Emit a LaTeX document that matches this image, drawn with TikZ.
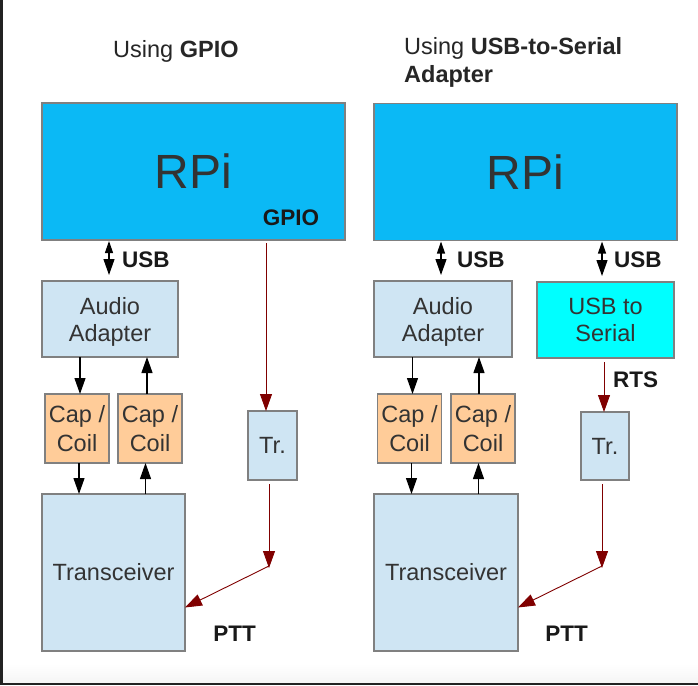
\documentclass[tikz,border=0pt]{standalone}
\usepackage{fontspec}
\setmainfont{Liberation Sans}
\usetikzlibrary{arrows.meta,calc}
\definecolor{rpiblue}{RGB}{11,185,245}
\definecolor{lightbox}{RGB}{207,229,243}
\definecolor{capor}{RGB}{255,204,153}
\definecolor{cyanbox}{RGB}{0,255,255}
\definecolor{boxline}{RGB}{128,128,128}
\definecolor{txtgrey}{RGB}{51,51,51}
\definecolor{pttred}{RGB}{128,0,0}
\definecolor{frame}{RGB}{34,34,34}
\begin{document}
\begin{tikzpicture}[x=1pt,y=-1pt,
  box/.style={draw=boxline, line width=1.2pt, inner sep=0pt, outer sep=0pt,
    align=center, text=txtgrey, font=\fontsize{23.5}{27}\selectfont},
  lightb/.style={box, fill=lightbox},
  capb/.style={box, fill=capor, minimum width=64pt, minimum height=69pt,
    font=\fontsize{23.5}{28.5}\selectfont},
  rpib/.style={box, fill=rpiblue, minimum width=303pt, minimum height=137pt,
    font=\fontsize{48}{50}\selectfont},
  lbl/.style={inner sep=0pt, text=black!90, font=\fontsize{22.5}{26}\selectfont\bfseries},
  ttl/.style={inner sep=0pt, text=black!85, align=left, font=\fontsize{23.5}{28}\selectfont},
  blk/.style={line width=1.2pt, -{Triangle[width=11pt,length=16pt]}},
  usb/.style={line width=1.2pt, {Triangle[width=8pt,length=12pt]}-{Triangle[width=11pt,length=16pt]},
    shorten <=1pt, shorten >=6pt},
  redar/.style={draw=pttred, line width=0.9pt, -{Triangle[width=12pt,length=17pt]}, pttred}
]
\useasboundingbox (0,0) rectangle (698,685);
\fill[white] (0,0) rectangle (698,685);
\shade[top color=white, bottom color=black!4] (3,664) rectangle (698,683);
\fill[frame] (0,0) rectangle (3,685);
\fill[frame] (0,683) rectangle (698,685);

% titles
\node[ttl, anchor=base west] (titleL) at (113,57) {Using \textbf{GPIO}};
\node[ttl, anchor=north west] (titleR) at (404,37) {Using \textbf{USB-to-Serial}\\\textbf{Adapter}};

% ---------- left ----------
\node[rpib] (rpiL) at (193.5,171.5) {RPi};
\node[lbl] (gpio) at (291,218) {GPIO};
\node[lightb, text depth=0pt, minimum width=136pt, minimum height=76pt] (audioL) at (110,319) {Audio\\Adapter};
\node[capb] (capL1) at (77,428.5) {Cap /\\Coil};
\node[capb] (capL2) at (150,428.5) {Cap /\\Coil};
\node[lightb, minimum width=49pt, minimum height=69pt] (trL) at (272.5,445.5) {Tr.};
\node[lightb, minimum width=143pt, minimum height=157pt] (xcvrL) at (113.5,572.5) {Transceiver};
\node[lbl, anchor=west] (usbL) at (122,260) {USB};
\node[lbl] (pttL) at (234.5,634) {PTT};

\draw[usb] ($(rpiL.south -| audioL.north)+(-1,0)$) -- ($(audioL.north)+(-1,0)$);
\draw[blk] ($(audioL.south -| capL1.north)+(3,0)$) -- ($(capL1.north)+(3,0)$);
\draw[blk] ($(capL1.south)+(2,0)$) -- ($(xcvrL.north -| capL1.south)+(2,0)$);
\draw[blk] ($(xcvrL.north -| capL2.south)+(-4.5,0)$) -- ($(capL2.south)+(-4.5,0)$);
\draw[blk] ($(capL2.north)+(-3,0)$) -- ($(audioL.south -| capL2.north)+(-3,0)$);

\coordinate (kL) at (269,568);
\draw[redar] ($(rpiL.south -| trL.north)+(-6.5,3)$) -- ($(trL.north)+(-6.5,0)$);
\draw[redar] ($(trL.south)+(-3.5,4)$) -- (kL);
\draw[redar] ($(kL)+(0,-2)$) -- ($(xcvrL.east)+(0,35)$);

% ---------- right ----------
\node[rpib] (rpiR) at (525.5,172) {RPi};
\node[lightb, text depth=0pt, minimum width=138pt, minimum height=76pt] (audioR) at (443,319) {Audio\\Adapter};
\node[box, fill=cyanbox, minimum width=137pt, minimum height=76pt] (serial) at (605.5,320) {USB to\\Serial};
\node[capb] (capR1) at (409.5,428.5) {Cap /\\Coil};
\node[capb] (capR2) at (483,428.5) {Cap /\\Coil};
\node[lightb, minimum width=48pt, minimum height=68pt] (trR) at (605,446) {Tr.};
\node[lightb, minimum width=144pt, minimum height=157pt] (xcvrR) at (446,572.5) {Transceiver};
\node[lbl, anchor=west] (usbR1) at (457,260) {USB};
\node[lbl, anchor=west] (usbR2) at (614,260) {USB};
\node[lbl, anchor=west] (rts) at (613,380) {RTS};
\node[lbl] (pttR) at (566.5,634) {PTT};

\draw[usb] ($(rpiR.south -| audioR.north)+(-2,0)$) -- ($(audioR.north)+(-2,0)$);
\draw[usb] ($(rpiR.south -| serial.north)+(-3.5,0)$) -- ($(serial.north)+(-3.5,0)$);
\draw[blk] ($(audioR.south -| capR1.north)+(3,0)$) -- ($(capR1.north)+(3,0)$);
\draw[blk] ($(capR1.south)+(2,0)$) -- ($(xcvrR.north -| capR1.south)+(2,0)$);
\draw[blk] ($(xcvrR.north -| capR2.south)+(-4.5,0)$) -- ($(capR2.south)+(-4.5,0)$);
\draw[blk] ($(capR2.north)+(-4,0)$) -- ($(audioR.south -| capR2.north)+(-4,0)$);

\coordinate (kR) at (602,568);
\draw[redar] ($(serial.south)+(-1.5,4)$) -- ($(trR.north)+(-1,0)$);
\draw[redar] ($(trR.south)+(-3,4)$) -- (kR);
\draw[redar] ($(kR)+(0,-2)$) -- ($(xcvrR.east)+(0,35)$);
\end{tikzpicture}
\end{document}
